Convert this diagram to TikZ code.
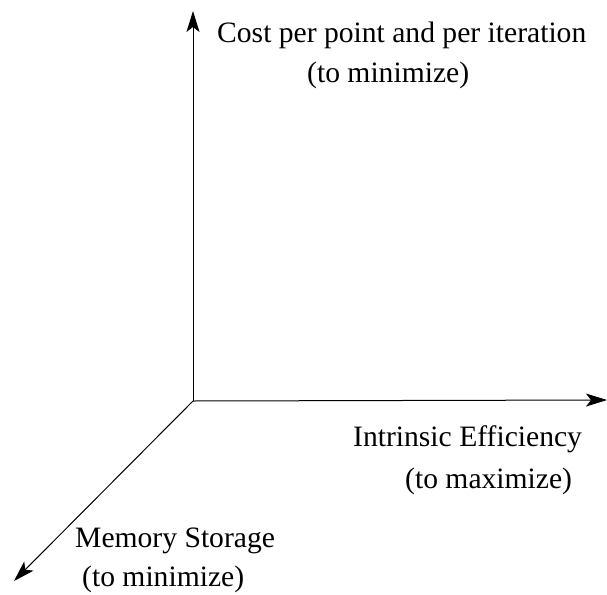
\documentclass[tikz,border=0pt]{standalone}
\usepackage{fontspec}
\setmainfont{Liberation Serif}
\usepackage{tikz}
\usetikzlibrary{
  calc,          % Coordinate math
  positioning    % Relative placement
}
\usetikzlibrary{arrows.meta}

\begin{document}
\begin{tikzpicture}[x=1pt, y=-1pt,
    axis/.style={line width=1pt, -{Stealth[length=21pt, width=13pt, inset=5pt]}},
    lbl/.style={anchor=base west, inner sep=0pt, font=\fontsize{29.6}{35}\selectfont}]
          \useasboundingbox (0,0) rectangle (607,594);
          \coordinate (O) at (193,401);       % Origin of the three axes
          \coordinate (Ycost) at (193,11);    % Tip of vertical axis
          \coordinate (Xeff) at (607,400);    % Tip of horizontal axis
          \coordinate (Zmem) at (14,581);     % Tip of oblique axis
          \draw[axis] (O) -- (Ycost);
          \draw[axis] (O) -- (Xeff);
          \draw[axis] (O) -- (Zmem);
          \node[lbl] (cost) at (217,42) {Cost per point and per iteration};
          \node[lbl] (costmin) at (307,82) {(to minimize)};
          \node[lbl] (eff) at (353,446) {Intrinsic Efficiency};
          \node[lbl] (effmax) at (405,488) {(to maximize)};
          \node[lbl] (mem) at (75,547) {Memory Storage};
          \node[lbl] (memmin) at (82,586) {(to minimize)};
        \end{tikzpicture}
\end{document}
